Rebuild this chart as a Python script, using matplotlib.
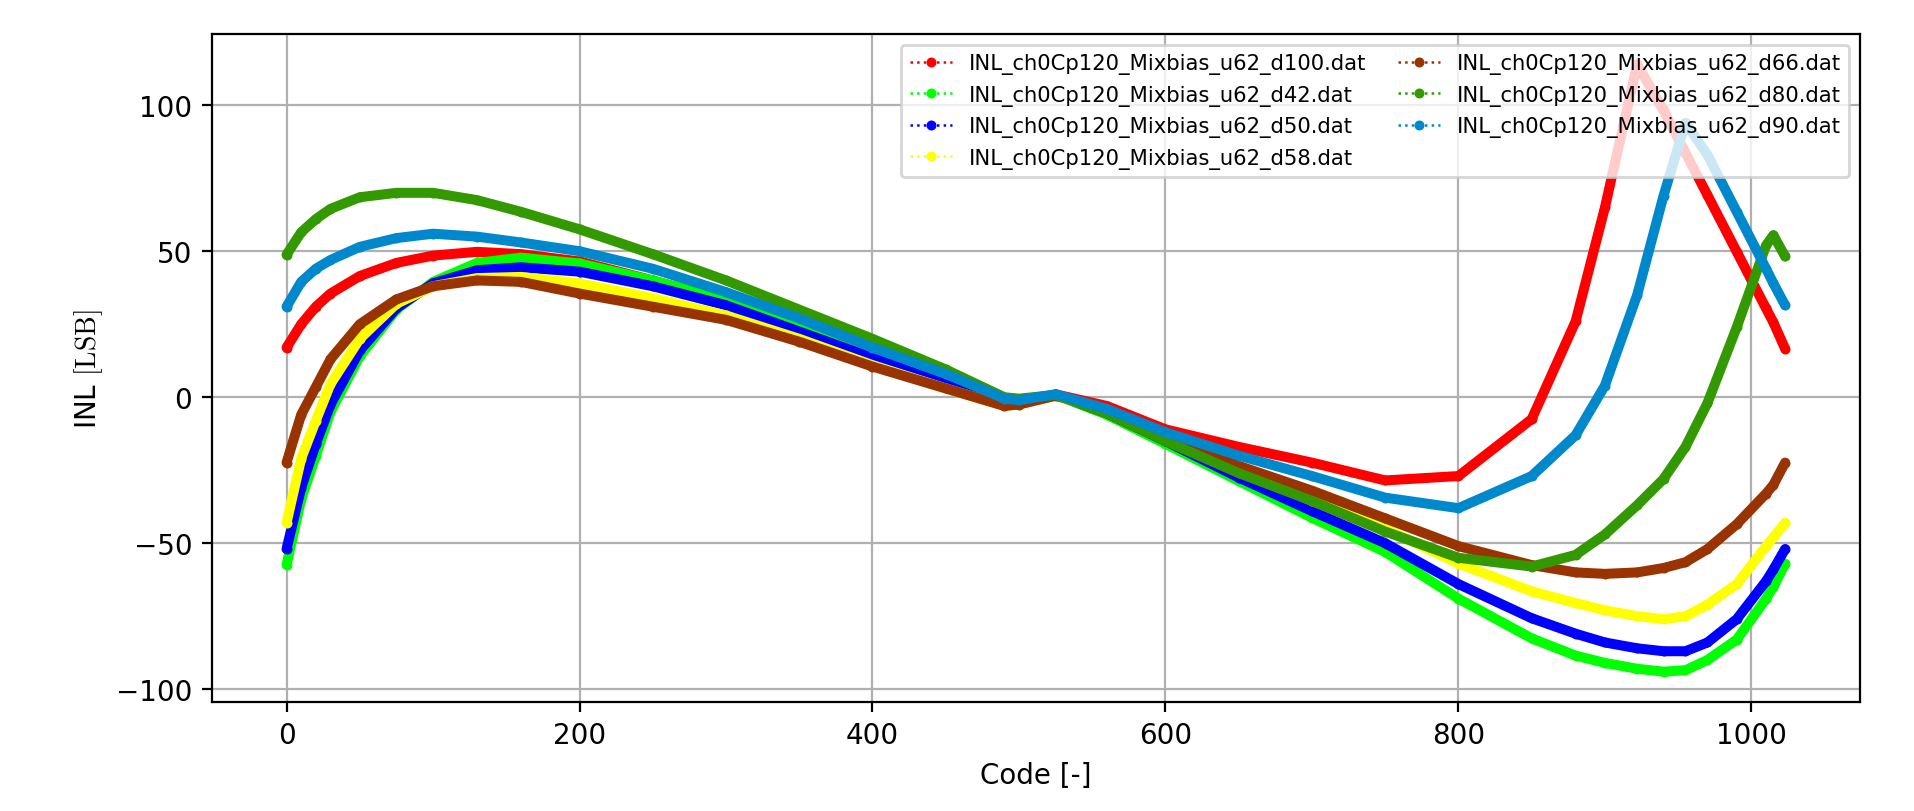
import matplotlib
matplotlib.use("Agg")
import matplotlib.pyplot as plt

# --- data (code -> INL in LSB) ---
codes = [0, 10, 20, 30, 50, 75, 100, 130, 160, 200, 250, 300, 350, 400, 450,
         490, 500, 525, 560, 600, 650, 700, 750, 800, 850, 880, 900, 922, 940,
         955, 970, 990, 1010, 1015, 1023]

inl_d100 = [17, 25, 31, 35.5, 41.5, 46, 48.5, 49.8, 49, 46.5, 40, 33, 24, 15, 6,
            -1.5, -2, 1, -3, -11, -17, -22.4, -28.5, -27, -7.5, 26, 65, 114, 98.2,
            83.7, 69.2, 49.8, 30.4, 25.6, 16.6]
inl_d42 = [-57.4, -35, -20, -5, 14, 30, 39.5, 46, 47.8, 45.8, 40, 33, 24, 14.5, 5.5,
           -2, -2, 0.8, -6, -16, -28.7, -41.3, -53, -69, -82.6, -88.5, -91, -93, -94,
           -93.5, -90, -83, -69, -65, -57]
inl_d50 = [-52, -31, -16, -2.5, 16, 30.5, 39, 43.5, 44.5, 43, 38, 31.5, 22.5, 13.5, 4.5,
           -2.5, -2, 0.8, -5.5, -15, -27.5, -39, -50, -64, -75.7, -81, -84, -86, -87,
           -87, -84, -76, -63, -59, -52]
inl_d58 = [-43, -21, -8, 4.5, 20, 32, 38, 40.8, 41.2, 39, 34, 28, 20, 11, 3,
           -3, -2.5, 0.5, -5, -14, -25, -35.5, -45, -57, -66.5, -70.5, -73, -75, -76,
           -75, -71, -64, -51, -48, -43]
inl_d66 = [-22.4, -6, 3.5, 13, 25, 33.5, 38, 40, 39.5, 35.5, 31, 26.5, 19, 10.5, 3,
           -3, -2.5, 0.5, -4, -12.5, -23.5, -32, -41.5, -51, -57.5, -60, -60.5, -60, -58.5,
           -56.5, -52, -43.5, -33, -30, -22.4]
inl_d80 = [48.8, 56.5, 61, 64.5, 68.5, 70, 70, 67.5, 63.5, 57.5, 49, 40, 30, 20, 9.5,
           0, -0.5, 0.8, -5.5, -15, -26, -35.5, -46, -55, -58, -54, -47, -37, -28,
           -17, -2, 24, 52, 55.5, 48.2]
inl_d90 = [31, 39.5, 44, 47, 51.5, 54.5, 56, 55, 53, 50, 44, 36, 27, 17, 8,
           -0.5, -1, 1, -4, -12, -20, -27, -34.4, -38, -27, -13, 4, 35, 69,
           94, 83, 63.5, 44, 39, 31.5]

labels = ["INL_ch0Cp120_Mixbias_u62_d100.dat", "INL_ch0Cp120_Mixbias_u62_d42.dat",
          "INL_ch0Cp120_Mixbias_u62_d50.dat", "INL_ch0Cp120_Mixbias_u62_d58.dat",
          "INL_ch0Cp120_Mixbias_u62_d66.dat", "INL_ch0Cp120_Mixbias_u62_d80.dat",
          "INL_ch0Cp120_Mixbias_u62_d90.dat"]
colors = ["#ff0000", "#00ff00", "#0000ff", "#ffff00", "#993300", "#339900", "#0088cc"]
series = [inl_d100, inl_d42, inl_d50, inl_d58, inl_d66, inl_d80, inl_d90]

fig = plt.figure(figsize=(9.575, 4.06), dpi=200)
ax = fig.add_axes([0.1105, 0.1342, 0.8608, 0.8227])

for vals, lab, col in zip(series, labels, colors):
    # thick band underneath mimics the dense dots of the original
    ax.plot(codes, vals, color=col, lw=3.6, solid_capstyle="round",
            solid_joinstyle="round")
    ax.plot(codes, vals, color=col, ls=":", lw=0.9, marker="o", ms=3.6,
            mew=0, label=lab)

ax.set_xlabel("Code [-]")
ax.set_ylabel(r"INL $[\mathrm{LSB}]$", math_fontfamily="cm")
ax.set_xticks([0, 200, 400, 600, 800, 1000])
ax.set_yticks([-100, -50, 0, 50, 100])
ax.grid(True, color="#b0b0b0", lw=0.8)
ax.legend(loc="upper right", ncol=2, fontsize=7.6, handlelength=2.0,
          labelspacing=0.5, columnspacing=1.5)

fig.savefig("out.png", dpi=200)
